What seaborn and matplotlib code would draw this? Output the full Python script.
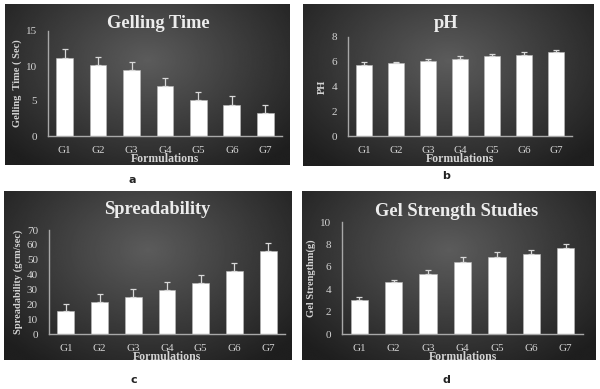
import numpy as np
import seaborn as sns
import matplotlib.pyplot as plt

formulations = ["G1", "G2", "G3", "G4", "G5", "G6", "G7"]

gelling_time = [11.1, 10.1, 9.5, 7.2, 5.2, 4.5, 3.3]
gelling_err = [1.3, 1.2, 1.1, 1.1, 1.1, 1.2, 1.2]

ph = [5.77, 5.88, 6.09, 6.25, 6.47, 6.58, 6.77]
ph_err = [0.18, 0.13, 0.14, 0.2, 0.16, 0.18, 0.17]

spread = [15.3, 21.4, 25.0, 29.3, 34.0, 42.6, 55.9]
spread_err = [5.0, 5.2, 5.4, 5.6, 5.4, 5.1, 5.6]

gel_strength = [3.08, 4.64, 5.33, 6.44, 6.86, 7.13, 7.66]
gel_strength_err = [0.18, 0.21, 0.36, 0.42, 0.42, 0.36, 0.36]

sns.set_style("white")
plt.rcParams['font.family'] = ['Liberation Serif', 'DejaVu Serif']

W, H = 600, 389
fig = plt.figure(figsize=(6, 3.89), dpi=100)
fig.patch.set_facecolor("white")


def rect(x0, y0, x1, y1):
    # pixel box (top-left origin) -> figure fraction
    return [x0 / W, 1 - y1 / H, (x1 - x0) / W, (y1 - y0) / H]


# radial gradient for the dark panel background
gy, gx = np.mgrid[0:1:200j, 0:1:300j]
r = np.sqrt(((gx - 0.5) / 0.6) ** 2 + ((gy - 0.35) / 0.75) ** 2)
grad = np.clip(0.36 - 0.22 * r, 0.12, 0.4)

panels = [
    dict(box=(5, 4, 290, 165), ax=(48, 31, 282, 136), vals=gelling_time, err=gelling_err,
         ylim=15, ticks=[0, 5, 10, 15], title="Gelling Time", tpos=(158, 23),
         ylabel="Gelling  Time ( Sec)", letter="a", lpos=(132, 180)),
    dict(box=(303, 4, 594, 166), ax=(348, 37, 572, 136), vals=ph, err=ph_err,
         ylim=8, ticks=[0, 2, 4, 6, 8], title="pH", tpos=(446, 24), ylabel="PH",
         letter="b", lpos=(446, 176)),
    dict(box=(4, 191, 292, 360), ax=(49, 230, 285, 334), vals=spread, err=spread_err,
         ylim=70, ticks=list(range(0, 80, 10)), title="Spreadability", tpos=(157, 210),
         ylabel="Spreadability (gcm/sec)", letter="c", lpos=(134, 380)),
    dict(box=(302, 191, 596, 360), ax=(342, 222, 583, 334), vals=gel_strength,
         err=gel_strength_err, ylim=10, ticks=[0, 2, 4, 6, 8, 10],
         title="Gel Strength Studies", tpos=(457, 211), ylabel="Gel Strengthm(g)",
         letter="d", lpos=(446, 380)),
]

light = "#d4d4d4"

for p in panels:
    bg = fig.add_axes(rect(*p["box"]))
    bg.imshow(grad, cmap="gray", vmin=0, vmax=1, aspect="auto", extent=[0, 1, 0, 1])
    bg.set_axis_off()

    ax = fig.add_axes(rect(*p["ax"]))
    ax.patch.set_alpha(0)
    sns.barplot(x=formulations, y=p["vals"], color="white", saturation=1, width=0.5,
                edgecolor="#bbbbbb", linewidth=0.4, ax=ax)
    ax.errorbar(range(len(formulations)), p["vals"],
                yerr=[np.zeros(len(p["err"])), p["err"]],
                fmt="none", ecolor="#d8d8d8", elinewidth=0.9, capsize=2.5, capthick=0.9)
    ax.set_xlim(-0.5, 6.5)
    ax.set_ylim(0, p["ylim"])
    ax.set_yticks(p["ticks"])
    ax.tick_params(length=0, colors=light, labelsize=8)
    ax.tick_params(axis="x", pad=7)
    ax.tick_params(axis="y", pad=8)
    for s in ["top", "right"]:
        ax.spines[s].set_visible(False)
    for s in ["left", "bottom"]:
        ax.spines[s].set_color("#a8a8a8")
        ax.spines[s].set_linewidth(1.0)
    ax.set_xlabel("Formulations", color=light, fontsize=8.5, fontweight="bold", labelpad=-1)
    ax.set_ylabel(p["ylabel"], color=light, fontsize=7.5, fontweight="bold", labelpad=3)

    fig.text(p["tpos"][0] / W, 1 - p["tpos"][1] / H, p["title"], ha="center", va="center",
             color="#ececec", fontsize=13.3, fontweight="bold")
    fig.text(p["lpos"][0] / W, 1 - p["lpos"][1] / H, p["letter"], ha="center", va="center",
             color="#222222", fontsize=8, fontweight="bold", family="DejaVu Sans")

fig.savefig("out.png", dpi=100)
